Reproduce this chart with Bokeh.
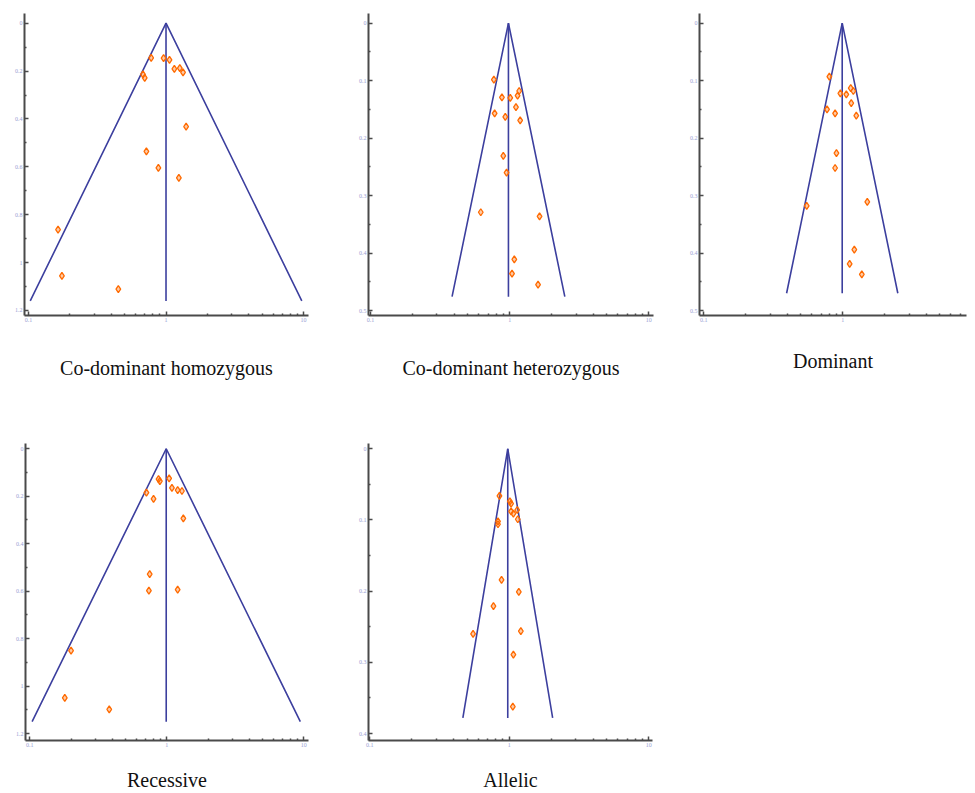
import numpy as np
from bokeh.plotting import figure
from bokeh.layouts import row, column
from bokeh.models import Range1d, FixedTicker
from bokeh.embed import file_html
from bokeh.resources import INLINE

# ---------------- data ----------------
captions = ["Co-dominant homozygous", "Co-dominant heterozygous", "Dominant",
            "Recessive", "Allelic"]

homo_or = [0.78, 0.96, 1.06, 1.15, 1.26, 1.33, 0.68, 0.70, 1.40, 0.72, 0.88, 1.24, 0.164, 0.175, 0.45]
homo_se = [0.145, 0.146, 0.153, 0.191, 0.188, 0.205, 0.214, 0.228, 0.432, 0.535, 0.604, 0.646, 0.862, 1.055, 1.111]
homo_pooled, homo_se_max = 1.0, 1.16

het_or = [0.77, 1.17, 1.14, 0.88, 1.01, 1.11, 0.78, 0.93, 1.19, 0.90, 0.95, 0.62, 1.64, 1.08, 1.04, 1.60]
het_se = [0.098, 0.118, 0.126, 0.129, 0.130, 0.146, 0.157, 0.163, 0.169, 0.231, 0.260, 0.329, 0.336, 0.411, 0.436, 0.455]
het_pooled, het_se_max = 0.98, 0.476

dom_or = [0.80, 1.14, 1.19, 0.96, 1.06, 1.15, 0.77, 0.88, 1.25, 0.90, 0.88, 0.55, 1.50, 1.21, 1.12, 1.37]
dom_se = [0.093, 0.113, 0.118, 0.122, 0.124, 0.139, 0.150, 0.157, 0.161, 0.226, 0.252, 0.318, 0.311, 0.394, 0.419, 0.437]
dom_pooled, dom_se_max = 0.99, 0.47

rec_or = [0.87, 0.89, 1.04, 1.09, 1.20, 1.29, 0.71, 0.80, 1.32, 0.75, 0.74, 1.20, 0.20, 0.18, 0.38]
rec_se = [0.128, 0.136, 0.125, 0.165, 0.174, 0.178, 0.185, 0.211, 0.293, 0.528, 0.598, 0.594, 0.851, 1.050, 1.098]
rec_pooled, rec_se_max = 0.99, 1.15

all_or = [0.85, 1.01, 1.03, 1.14, 1.03, 1.07, 1.15, 0.83, 0.83, 0.88, 1.17, 0.77, 0.55, 1.21, 1.07, 1.06]
all_se = [0.066, 0.074, 0.077, 0.086, 0.088, 0.091, 0.099, 0.102, 0.106, 0.184, 0.201, 0.221, 0.260, 0.256, 0.289, 0.362]
all_pooled, all_se_max = 0.975, 0.378

x_ticks = [0.1, 1, 10]
x_tick_labels = ["0.1", "1", "10"]
x_minor = [0.2, 0.3, 0.4, 0.5, 0.6, 0.7, 0.8, 0.9, 2, 3, 4, 5, 6, 7, 8, 9]

y_ticks_12 = [0, 0.2, 0.4, 0.6, 0.8, 1.0, 1.2]
y_labels_12 = ["0", "0.2", "0.4", "0.6", "0.8", "1", "1.2"]
y_minor_12 = [0.1, 0.3, 0.5, 0.7, 0.9, 1.1]

y_ticks_05 = [0, 0.1, 0.2, 0.3, 0.4, 0.5]
y_labels_05 = ["0", "0.1", "0.2", "0.3", "0.4", "0.5"]
y_minor_05 = [0.05, 0.15, 0.25, 0.35, 0.45]

y_ticks_04 = [0, 0.1, 0.2, 0.3, 0.4]
y_labels_04 = ["0", "0.1", "0.2", "0.3", "0.4"]
y_minor_04 = [0.05, 0.15, 0.25, 0.35]

# ---------------- styles ----------------
ORANGE = "#ff6a00"
FUNNEL = "#3c3f9e"
AXIS = "#4a4a4a"
TICKLAB = "#9aa2d4"
SERIF = "Liberation Serif"


def panel(or_vals, se_vals, pooled, se_max, yt, yl, ym, caption,
          xr, yr, width, height, bl, br, bt, bb, label_standoff):
    p = figure(width=width, height=height, x_axis_type="log",
               x_range=Range1d(*xr), y_range=Range1d(*yr),
               output_backend="svg", toolbar_location=None,
               min_border_left=bl, min_border_right=br,
               min_border_top=bt, min_border_bottom=bb)
    p.outline_line_color = None
    p.grid.visible = False
    p.background_fill_color = "white"

    # funnel (pseudo 95% limits) and pooled estimate
    lo = pooled * np.exp(-1.96 * se_max)
    hi = pooled * np.exp(1.96 * se_max)
    p.line([lo, pooled, hi], [se_max, 0, se_max], line_color=FUNNEL, line_width=1.6)
    p.line([pooled, pooled], [0, se_max], line_color=FUNNEL, line_width=1.6)

    p.scatter(or_vals, se_vals, marker="diamond", size=7, line_color=ORANGE,
              fill_color=ORANGE, fill_alpha=0.35, line_width=1.3)

    xa = p.xaxis[0]
    xa.ticker = FixedTicker(ticks=x_ticks, minor_ticks=x_minor)
    xa.major_label_overrides = {t: s for t, s in zip(x_ticks, x_tick_labels)}
    ya = p.yaxis[0]
    ya.ticker = FixedTicker(ticks=yt, minor_ticks=ym)
    ya.major_label_overrides = {t: s for t, s in zip(yt, yl)}

    for ax in (xa, ya):
        ax.axis_line_color = AXIS
        ax.axis_line_width = 2
        ax.major_tick_line_color = AXIS
        ax.minor_tick_line_color = AXIS
        ax.major_tick_line_width = 1.5
        ax.minor_tick_line_width = 1.5
        ax.major_tick_in = 4
        ax.major_tick_out = 0
        ax.minor_tick_in = 2
        ax.minor_tick_out = 0
        ax.major_label_text_font_size = "6px"
        ax.major_label_text_color = TICKLAB
        ax.major_label_text_font = SERIF
        ax.major_label_standoff = 2
    xa.axis_label = caption
    xa.axis_label_text_font = SERIF
    xa.axis_label_text_font_style = "normal"
    xa.axis_label_text_font_size = "20px"
    xa.axis_label_text_color = "#111111"
    xa.axis_label_standoff = label_standoff
    return p


p1 = panel(homo_or, homo_se, homo_pooled, homo_se_max, y_ticks_12, y_labels_12, y_minor_12,
           captions[0], (0.0935, 10.87), (1.2209, -0.0405), 352, 436, 24, 44, 13, 121, 32)
p2 = panel(het_or, het_se, het_pooled, het_se_max, y_ticks_05, y_labels_05, y_minor_05,
           captions[1], (0.0967, 10.81), (0.5087, -0.0169), 331, 436, 16, 30, 13, 121, 32)
p3 = panel(dom_or, dom_se, dom_pooled, dom_se_max, y_ticks_05, y_labels_05, y_minor_05,
           captions[2], (0.0931, 7.76), (0.5087, -0.0169), 284, 436, 16, 1, 13, 121, 25)
p4 = panel(rec_or, rec_se, rec_pooled, rec_se_max, y_ticks_12, y_labels_12, y_minor_12,
           captions[3], (0.0930, 10.82), (1.2292, -0.0221), 352, 357, 25, 44, 7, 50, 19)
p5 = panel(all_or, all_se, all_pooled, all_se_max, y_ticks_04, y_labels_04, y_minor_04,
           captions[4], (0.0979, 10.63), (0.4097, -0.0074), 330, 357, 16, 30, 7, 50, 19)

layout = column(row(p1, p2, p3), row(p4, p5))

open("out.html", "w").write(file_html(layout, INLINE))
